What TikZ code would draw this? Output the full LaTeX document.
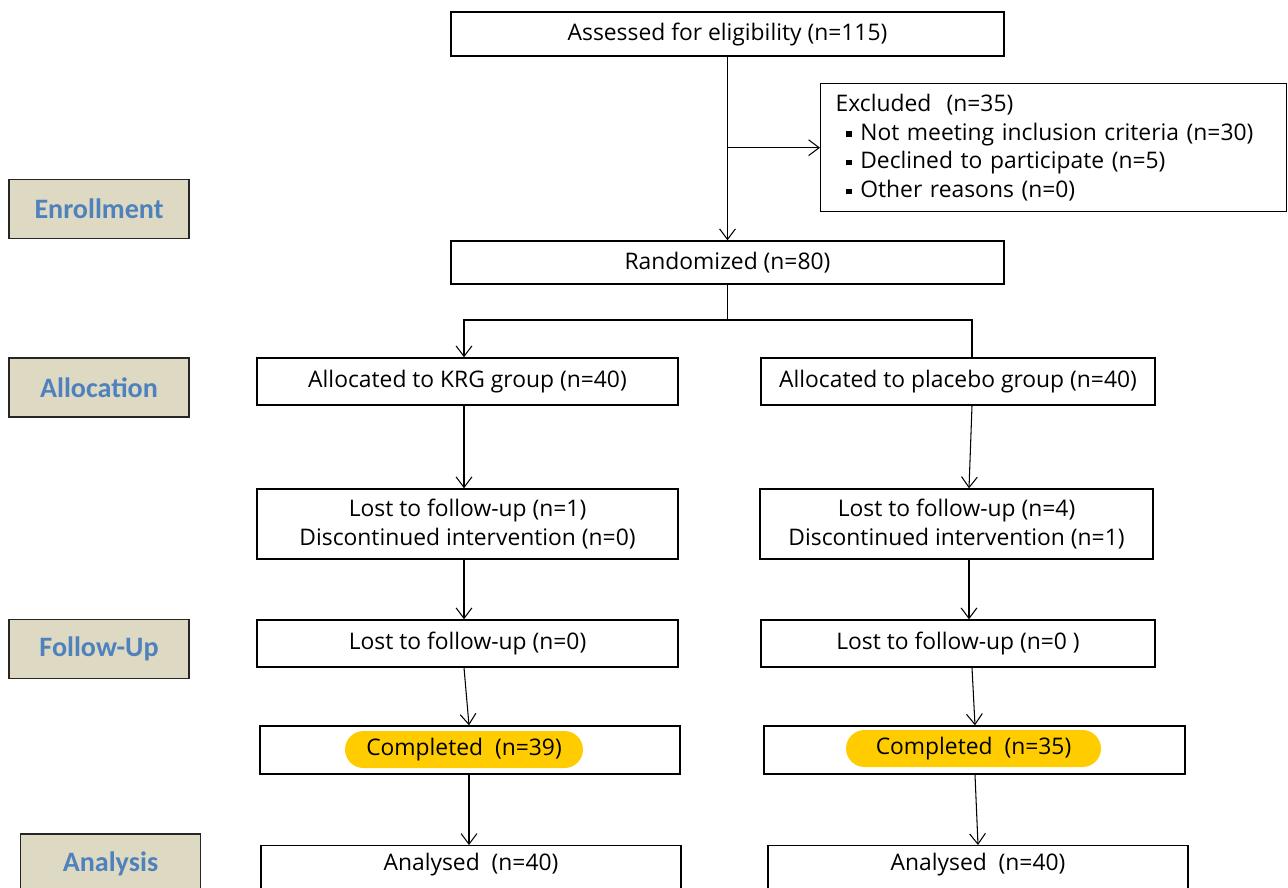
\documentclass[tikz,border=0pt]{standalone}
\usepackage{fontspec}
\setmainfont{Open Sans}
\newfontfamily\labfont{Carlito}
\usetikzlibrary{arrows.meta,positioning}
\definecolor{labfill}{HTML}{DDD9C3}
\definecolor{labtext}{HTML}{4F81BD}
\definecolor{hilite}{HTML}{FFCC00}
\newcommand\sqbul{\raisebox{2pt}{\rule{3pt}{3pt}}\hspace{5pt}}
\tikzset{
  box/.style={draw,line width=0.8pt,minimum height=0.94cm,inner sep=2pt,align=center,font=\fontsize{13}{16.4}\selectfont},
  stage/.style={draw=black!85,line width=1.1pt,fill=labfill,minimum width=3.6cm,minimum height=1.18cm,text=labtext,font=\labfont\fontsize{16}{18}\selectfont\bfseries},
  pill/.style={fill=hilite,rounded corners=0.37cm,minimum width=4.76cm,minimum height=0.74cm,inner sep=0pt,font=\fontsize{13}{16}\selectfont},
  arr/.style={-{Straight Barb[length=6pt,width=9pt]},line width=0.6pt},
}

\begin{document}
\begin{tikzpicture}[x=0.02cm,y=-0.02cm]
        \useasboundingbox (0,0) rectangle (1288,887);
        \clip (0,0) rectangle (1288,887);

        \node[stage] (enroll) at (99,209) {Enrollment};
        \node[stage] (alloc) at (99,387.5) {Allocation};
        \node[stage] (follow) at (99,649) {Follow-Up};
        \node[stage,minimum height=1.2cm] (analysis) at (110.5,864) {Analysis};

        \node[box,minimum width=11.06cm,minimum height=0.88cm] (assess) at (727.5,34) {Assessed for eligibility (n=115)};
        \node[box,anchor=north west,minimum width=9.32cm,minimum height=2.56cm,text width=8.72cm,align=left,inner xsep=0.3cm] (excl) at (820,83)
            {Excluded\ \ (n=35)\\
             \hspace*{6pt}\sqbul Not meeting inclusion criteria (n=30)\\
             \hspace*{6pt}\sqbul Declined to participate (n=5)\\
             \hspace*{6pt}\sqbul Other reasons (n=0)};
        \node[box,minimum width=11.06cm,minimum height=0.86cm] (rand) at (727.5,262.5) {Randomized (n=80)};

        \node[box,minimum width=8.42cm] (krg) at (467.5,381.5) {Allocated to KRG group (n=40)};
        \node[box,minimum width=7.88cm] (plc) at (958,381.5) {Allocated to placebo group (n=40)};

        \node[box,minimum width=8.42cm,minimum height=1.4cm] (lostk) at (467.5,524) {Lost to follow-up (n=1)\\Discontinued intervention (n=0)};
        \node[box,minimum width=7.86cm,minimum height=1.4cm] (lostp) at (956.5,524) {Lost to follow-up (n=4)\\Discontinued intervention (n=1)};

        \node[box,minimum width=8.42cm] (zerok) at (467.5,643.5) {Lost to follow-up (n=0)};
        \node[box,minimum width=7.88cm] (zerop) at (958,643.5) {Lost to follow-up (n=0 )};

        \node[box,minimum width=8.4cm,minimum height=0.96cm] (compk) at (470,750) {};
        \node[box,minimum width=8.42cm,minimum height=0.96cm] (compp) at (974.5,750) {};
        \node[pill] (pillk) at (464,749.5) {Completed\ \ (n=39)};
        \node[pill,minimum width=5.1cm] (pillp) at (973.5,748.5) {Completed\ \ (n=35)};

        \node[box,anchor=north,minimum width=8.4cm,minimum height=1.2cm,text depth=0.55cm] (anak) at (471,845) {Analysed\ \ (n=40)};
        \node[box,anchor=north,minimum width=8.4cm,minimum height=1.2cm,text depth=0.55cm] (anap) at (978,845) {Analysed\ \ (n=40)};

        \coordinate (jl) at (464,320);
        \coordinate (jr) at (972,320);

        \draw[arr] (assess) -- (rand);
        \draw[arr] (assess.south |- excl.west) -- (excl.west);
        \draw[line width=0.6pt] (rand.south) -- (rand.south |- jl);
        \draw[arr,{Straight Barb[length=6pt,width=9pt]}-] (krg.north -| jl) -- (jl) -- (jr) -- (plc.north -| jr);

        \draw[arr] (krg.south -| jl) -- (lostk.north -| jl);
        \draw[arr] (plc.south -| jr) -- ([xshift=-0.06cm]lostp.north -| jr);
        \draw[arr] (lostk.south -| jl) -- (zerok.north -| jl);
        \draw[arr] ([xshift=-0.06cm]lostp.south -| jr) -- ([xshift=-0.06cm]zerop.north -| jr);
        \draw[arr] (zerok.south -| jl) -- ([xshift=0.1cm]compk.north -| jl);
        \draw[arr] (zerop.south -| jr) -- ([xshift=0.06cm]compp.north -| jr);
        \draw[arr] ([xshift=0.1cm]compk.south -| jl) -- ([xshift=0.1cm]anak.north -| jl);
        \draw[arr] ([xshift=0.06cm]compp.south -| jr) -- ([xshift=0.12cm]anap.north -| jr);
    \end{tikzpicture}
\end{document}
